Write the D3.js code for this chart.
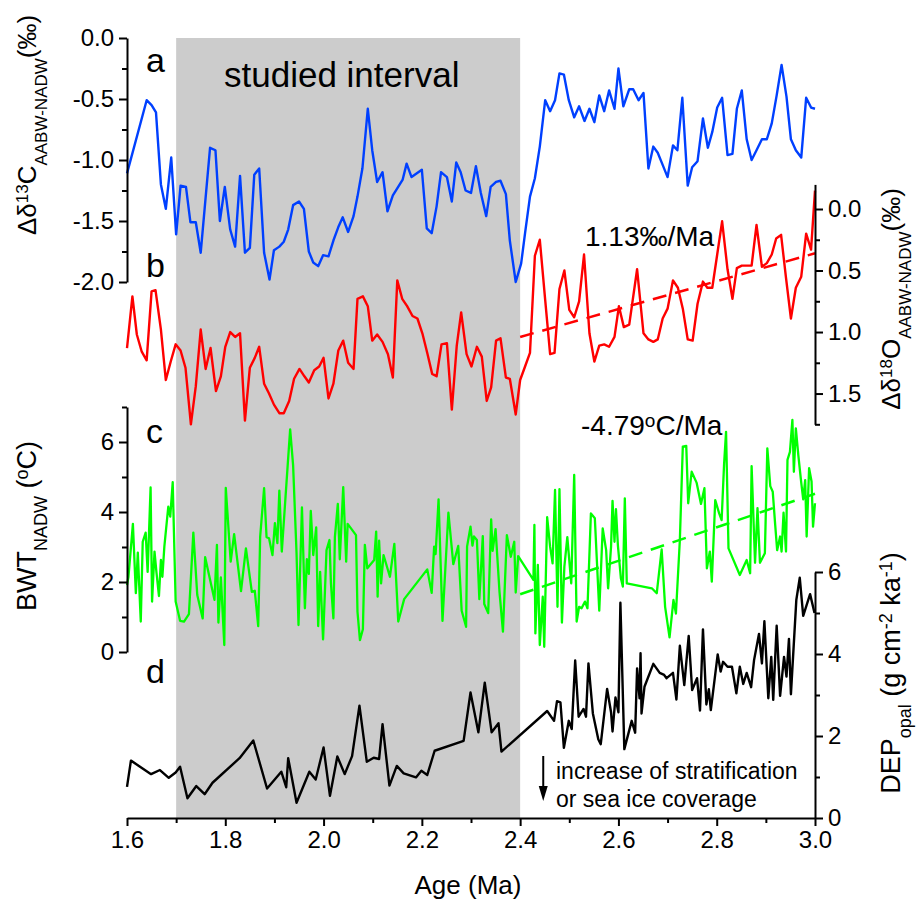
<!DOCTYPE html>
<html>
<head>
<meta charset="utf-8">
<script src="https://cdn.jsdelivr.net/npm/d3@7"></script>
<style>
body { margin: 0; background: #fff; }
svg text { font-family: "Liberation Sans", Arial, sans-serif; fill: #000; }
.axis path, .axis line { stroke: #000; stroke-width: 2; }
.axis text { font-size: 24px; font-family: "Liberation Sans", Arial, sans-serif; }
</style>
</head>
<body>
<div id="chart"></div>
<script>
// ---- data ----
var studiedInterval = [1.7, 2.4];

// a: delta13C AABW-NADW (permil)
var blueAge = [1.600,1.640,1.650,1.659,1.669,1.679,1.690,1.700,1.709,1.720,1.729,1.740,1.750,1.769,1.780,1.789,1.799,1.810,1.820,1.830,1.840,1.850,1.859,1.869,1.879,1.890,1.899,1.910,1.919,1.928,1.938,1.950,1.960,1.970,1.979,1.989,1.999,2.010,2.020,2.030,2.039,2.050,2.061,2.069,2.079,2.090,2.099,2.109,2.120,2.130,2.141,2.161,2.169,2.179,2.200,2.210,2.220,2.230,2.239,2.251,2.261,2.270,2.279,2.289,2.300,2.310,2.320,2.331,2.340,2.351,2.360,2.371,2.379,2.391,2.402,2.410,2.420,2.430,2.440,2.451,2.461,2.471,2.480,2.489,2.499,2.510,2.520,2.531,2.541,2.551,2.561,2.571,2.581,2.592,2.600,2.610,2.622,2.630,2.641,2.651,2.661,2.671,2.680,2.690,2.700,2.711,2.720,2.730,2.741,2.750,2.761,2.772,2.782,2.791,2.801,2.811,2.822,2.832,2.841,2.851,2.861,2.871,2.881,2.892,2.902,2.912,2.922,2.932,2.942,2.951,2.961,2.972,2.982,2.992,3.000];
var blueVal = [-1.11,-0.51,-0.55,-0.61,-1.20,-1.40,-0.98,-1.61,-1.21,-1.22,-1.51,-1.51,-1.76,-0.90,-0.92,-1.50,-1.22,-1.57,-1.71,-1.13,-1.76,-1.72,-1.12,-1.07,-1.76,-1.98,-1.74,-1.71,-1.67,-1.57,-1.37,-1.34,-1.40,-1.75,-1.84,-1.87,-1.78,-1.79,-1.66,-1.55,-1.47,-1.59,-1.46,-1.30,-1.07,-0.58,-0.92,-1.18,-1.10,-1.42,-1.29,-1.16,-1.03,-1.14,-1.08,-1.56,-1.60,-1.38,-1.10,-1.14,-1.34,-1.02,-1.10,-1.25,-1.27,-1.05,-1.27,-1.46,-1.22,-1.18,-1.17,-1.28,-1.66,-2.00,-1.85,-1.60,-1.30,-1.15,-0.89,-0.51,-0.60,-0.51,-0.29,-0.30,-0.51,-0.65,-0.56,-0.68,-0.58,-0.69,-0.47,-0.60,-0.43,-0.58,-0.25,-0.56,-0.42,-0.42,-0.51,-0.45,-1.07,-0.89,-0.94,-1.04,-1.14,-0.88,-0.92,-0.49,-1.21,-1.06,-1.01,-0.66,-0.90,-0.77,-0.57,-0.49,-0.96,-0.95,-0.58,-0.43,-0.83,-1.00,-0.92,-0.83,-0.83,-0.70,-0.47,-0.22,-0.48,-0.83,-0.92,-0.98,-0.49,-0.57,-0.58];

// b: delta18O AABW-NADW (permil, reversed axis)
var redAge = [1.600,1.611,1.620,1.630,1.640,1.650,1.658,1.669,1.679,1.689,1.699,1.709,1.719,1.730,1.740,1.750,1.760,1.770,1.781,1.791,1.800,1.810,1.820,1.830,1.840,1.850,1.860,1.869,1.879,1.889,1.899,1.910,1.919,1.930,1.940,1.951,1.961,1.970,1.981,1.991,2.000,2.010,2.020,2.030,2.040,2.050,2.061,2.069,2.080,2.090,2.099,2.109,2.120,2.131,2.141,2.150,2.160,2.170,2.181,2.191,2.201,2.211,2.221,2.230,2.240,2.251,2.261,2.271,2.280,2.291,2.301,2.312,2.322,2.332,2.341,2.351,2.360,2.371,2.379,2.391,2.400,2.410,2.420,2.430,2.440,2.451,2.461,2.470,2.480,2.490,2.500,2.510,2.520,2.530,2.541,2.551,2.561,2.571,2.581,2.592,2.601,2.611,2.622,2.638,2.651,2.661,2.671,2.680,2.690,2.700,2.711,2.721,2.731,2.741,2.751,2.761,2.772,2.781,2.791,2.801,2.811,2.822,2.832,2.841,2.851,2.861,2.871,2.881,2.892,2.902,2.912,2.921,2.931,2.941,2.951,2.961,2.972,2.982,2.992,3.000];
var redVal = [1.13,0.71,1.02,1.16,1.23,0.67,0.66,0.98,1.39,1.24,1.10,1.15,1.29,1.75,1.44,0.98,1.30,1.13,1.48,1.36,1.12,1.00,1.04,1.01,1.72,1.29,1.21,1.12,1.42,1.50,1.59,1.66,1.66,1.56,1.38,1.30,1.36,1.41,1.31,1.28,1.21,1.54,1.42,1.15,1.07,1.25,1.30,0.73,0.71,0.79,1.07,1.02,1.08,1.18,1.37,0.58,0.73,0.79,0.87,0.89,1.01,1.17,1.34,1.36,1.10,1.09,1.63,1.11,0.84,1.18,1.28,1.12,1.20,1.56,1.45,1.07,1.05,1.37,1.38,1.67,1.39,1.28,1.17,0.38,0.25,0.74,1.18,1.17,0.65,0.50,0.82,0.88,0.75,0.37,1.01,1.24,1.11,1.10,1.12,1.04,0.79,0.96,0.94,0.49,1.01,1.06,1.08,1.06,0.89,0.81,0.58,0.64,0.81,1.06,1.07,0.77,0.59,0.64,0.64,0.37,0.10,0.49,0.73,0.48,0.46,0.46,0.46,0.13,0.47,0.44,0.37,0.24,0.21,0.56,0.89,0.64,0.55,0.20,0.33,-0.15];
var redTrendAge = [2.4, 3.0];
var redTrendVal = [1.04, 0.36];

// c: BWT NADW (deg C)
var greenAge = [1.600,1.603,1.612,1.618,1.622,1.628,1.632,1.638,1.642,1.648,1.651,1.656,1.660,1.665,1.669,1.672,1.676,1.684,1.688,1.693,1.699,1.708,1.716,1.726,1.735,1.743,1.754,1.759,1.778,1.783,1.786,1.791,1.798,1.801,1.811,1.818,1.832,1.842,1.854,1.860,1.867,1.871,1.879,1.884,1.889,1.896,1.901,1.906,1.910,1.915,1.927,1.932,1.938,1.945,1.949,1.956,1.962,1.966,1.970,1.974,1.979,1.985,1.989,1.993,1.999,2.006,2.012,2.015,2.020,2.023,2.029,2.033,2.040,2.046,2.049,2.066,2.069,2.074,2.080,2.084,2.089,2.103,2.107,2.110,2.113,2.117,2.122,2.135,2.144,2.152,2.164,2.211,2.220,2.225,2.228,2.234,2.242,2.254,2.264,2.274,2.281,2.290,2.292,2.299,2.303,2.306,2.312,2.317,2.324,2.327,2.335,2.341,2.344,2.350,2.358,2.365,2.373,2.381,2.388,2.391,2.396,2.427,2.429,2.431,2.436,2.440,2.446,2.449,2.455,2.461,2.466,2.471,2.476,2.480,2.485,2.490,2.496,2.504,2.510,2.515,2.520,2.525,2.532,2.537,2.544,2.552,2.561,2.568,2.575,2.579,2.585,2.588,2.592,2.595,2.599,2.605,2.609,2.613,2.617,2.668,2.678,2.688,2.695,2.704,2.712,2.717,2.725,2.731,2.738,2.742,2.749,2.759,2.768,2.775,2.780,2.786,2.790,2.797,2.805,2.810,2.815,2.819,2.824,2.847,2.861,2.868,2.871,2.878,2.883,2.888,2.898,2.903,2.909,2.914,2.919,2.923,2.929,2.932,2.936,2.941,2.944,2.949,2.954,2.957,2.961,2.966,2.972,2.976,2.980,2.983,2.988,2.993,2.996,3.000];
var greenVal = [1.91,2.15,3.66,1.68,2.84,0.87,3.15,3.41,2.29,4.70,1.44,2.87,2.27,1.60,2.63,2.15,3.01,4.15,3.87,4.85,1.44,0.89,0.87,1.08,3.41,1.63,0.96,2.71,1.49,3.06,0.84,2.13,0.20,4.69,2.58,3.37,1.74,2.96,1.72,1.75,0.74,3.30,4.68,3.28,3.25,2.77,3.68,3.11,4.61,2.87,5.34,6.36,5.34,2.82,0.77,4.13,1.25,2.65,2.23,4.03,2.77,3.56,0.74,2.29,0.36,2.91,3.20,1.96,0.96,3.28,4.23,2.65,4.71,2.58,3.66,3.34,1.15,0.34,0.65,3.06,2.39,2.63,3.44,1.58,3.18,1.96,2.77,2.15,3.09,0.87,1.51,2.36,1.69,3.01,2.80,4.36,0.89,3.98,2.51,3.03,1.18,0.72,3.01,3.58,3.04,3.30,3.20,1.51,3.31,1.37,1.11,3.79,2.89,3.51,1.72,0.58,3.34,2.72,3.15,1.70,2.74,2.06,3.63,0.53,2.49,0.20,1.58,0.15,3.85,3.01,2.53,4.63,1.29,4.65,0.84,2.44,3.28,1.96,5.06,0.87,1.29,1.25,1.44,1.25,3.96,3.82,1.18,3.53,2.91,1.82,3.01,4.32,3.15,4.08,3.03,2.11,1.87,4.39,1.96,1.82,1.68,2.93,1.29,0.42,1.49,1.10,3.20,5.87,5.89,4.25,5.15,4.84,4.23,4.68,2.39,2.87,2.01,4.34,3.96,3.77,5.37,6.29,2.96,2.20,2.63,2.25,5.31,2.55,4.11,2.55,2.82,5.82,4.74,4.58,3.63,2.91,3.30,2.87,3.98,2.87,5.49,5.72,6.63,5.15,6.39,5.63,4.84,4.36,4.91,3.30,5.25,4.87,3.58,4.25];
var greenTrendAge = [2.4, 3.0];
var greenTrendVal = [1.65, 4.52];

// d: DEP opal (g cm-2 ka-1)
var blackAge = [1.600,1.608,1.649,1.667,1.685,1.699,1.708,1.723,1.741,1.758,1.774,1.829,1.857,1.885,1.914,1.924,1.928,1.945,1.971,1.984,2.000,2.013,2.028,2.043,2.058,2.073,2.088,2.102,2.113,2.120,2.134,2.149,2.163,2.188,2.199,2.211,2.226,2.285,2.299,2.315,2.328,2.342,2.356,2.362,2.455,2.469,2.475,2.482,2.489,2.499,2.505,2.512,2.519,2.529,2.534,2.539,2.548,2.559,2.564,2.577,2.585,2.588,2.594,2.600,2.604,2.612,2.627,2.634,2.638,2.643,2.645,2.647,2.653,2.671,2.684,2.693,2.698,2.711,2.718,2.725,2.734,2.743,2.750,2.760,2.766,2.772,2.779,2.784,2.788,2.802,2.808,2.813,2.822,2.831,2.840,2.847,2.854,2.861,2.870,2.876,2.886,2.892,2.897,2.905,2.911,2.915,2.922,2.929,2.937,2.942,2.947,2.951,2.962,2.969,2.976,2.990,2.999];
var blackVal = [0.76,1.40,1.07,1.17,0.98,1.11,1.25,0.48,0.78,0.58,0.86,1.46,1.89,0.72,1.13,0.75,1.46,0.37,1.13,0.94,1.72,0.54,1.50,1.07,1.51,2.74,1.37,1.47,1.44,2.29,0.79,1.27,1.09,0.99,1.15,1.05,1.64,1.88,3.06,2.09,3.30,2.09,2.31,1.62,2.61,2.37,2.85,2.82,1.71,2.37,2.17,3.84,2.47,2.66,2.47,3.77,2.55,1.92,1.80,3.15,2.58,2.11,2.94,2.58,5.25,1.68,2.37,2.08,3.65,2.92,4.02,2.55,3.20,3.76,3.54,3.49,3.41,3.54,2.89,4.20,3.24,4.44,3.12,3.41,2.62,4.60,2.77,3.14,2.63,3.99,3.57,3.81,3.69,3.69,3.04,3.69,3.27,3.54,3.19,3.85,4.49,3.77,4.80,2.92,3.93,2.88,4.69,2.98,3.93,3.45,4.37,3.02,5.32,5.86,4.93,5.46,5.00];

var xTicks = [1.6, 1.8, 2.0, 2.2, 2.4, 2.6, 2.8, 3.0];
var xMinor = [1.7, 1.9, 2.1, 2.3, 2.5, 2.7, 2.9];
var aTicks = [0, -0.5, -1.0, -1.5, -2.0];
var aMinor = [-0.25, -0.75, -1.25, -1.75];
var bTicks = [0, 0.5, 1.0, 1.5];
var bMinor = [0.25, 0.75, 1.25, 1.75];
var cTicks = [0, 2, 4, 6];
var cMinor = [1, 3, 5, 7];
var dTicks = [0, 2, 4, 6];
var dMinor = [1, 3, 5];

// ---- layout ----
var width = 917, height = 909;
var left = 127, right = 815;

var svg = d3.select("#chart").append("svg")
    .attr("width", width)
    .attr("height", height);

var xScale = d3.scaleLinear().domain([1.6, 3.0]).range([left, right]);
var yA = d3.scaleLinear().domain([-2, 0]).range([282, 38]);
var yB = d3.scaleLinear().domain([-0.2, 1.75]).range([184.4, 424.3]);
var yC = d3.scaleLinear().domain([0, 7]).range([652, 407]);
var yD = d3.scaleLinear().domain([0, 6]).range([818, 572]);

// grey band for the studied interval
svg.append("rect")
    .attr("x", xScale(studiedInterval[0]))
    .attr("y", yA(0))
    .attr("width", xScale(studiedInterval[1]) - xScale(studiedInterval[0]))
    .attr("height", yD(0) - yA(0))
    .attr("fill", "#cccccc");

svg.append("text")
    .attr("x", 224)
    .attr("y", 87)
    .style("font-size", "35px")
    .text("studied interval");

// draw one series as a polyline
function drawSeries(ages, vals, yScale, color, width, dash) {
    var line = d3.line()
        .x(function (d) { return xScale(d[0]); })
        .y(function (d) { return yScale(d[1]); });
    svg.append("path")
        .datum(d3.zip(ages, vals))
        .attr("fill", "none")
        .attr("stroke", color)
        .attr("stroke-width", width)
        .attr("stroke-linejoin", "round")
        .attr("stroke-dasharray", dash || null)
        .attr("d", line);
}

drawSeries(greenAge, greenVal, yC, "#00ff00", 2.3);
drawSeries(greenTrendAge, greenTrendVal, yC, "#00ff00", 2.5, "14,9");
drawSeries(blackAge, blackVal, yD, "#000000", 2.4);
drawSeries(redAge, redVal, yB, "#ff0000", 2.4);
drawSeries(redTrendAge, redTrendVal, yB, "#ff0000", 2.5, "14,9");
drawSeries(blueAge, blueVal, yA, "#0040ff", 2.4);

// axes: major ticks with labels plus a second pass for minor ticks
function drawAxis(axisFn, scale, major, minor, fmt, transform) {
    var g = svg.append("g")
        .attr("class", "axis")
        .attr("transform", transform);
    g.call(axisFn(scale).tickValues(major).tickSize(8).tickSizeOuter(0)
        .tickPadding(5).tickFormat(fmt));
    var m = svg.append("g")
        .attr("class", "axis")
        .attr("transform", transform);
    m.call(axisFn(scale).tickValues(minor).tickSize(5).tickSizeOuter(0).tickFormat(""));
    m.select(".domain").remove();
    return g;
}

// plain hyphen for negative numbers, as in the figure
var f1 = function (v) { return d3.format(".1f")(v).replace("\u2212", "-"); };
drawAxis(d3.axisBottom, xScale, xTicks, xMinor, f1, "translate(0," + yD(0) + ")");
drawAxis(d3.axisLeft, yA, aTicks, aMinor, f1, "translate(" + left + ",0)");
drawAxis(d3.axisRight, yB, bTicks, bMinor, f1, "translate(" + right + ",0)");
drawAxis(d3.axisLeft, yC, cTicks, cMinor, d3.format("d"), "translate(" + left + ",0)");
drawAxis(d3.axisRight, yD, dTicks, dMinor, d3.format("d"), "translate(" + right + ",0)");

// text with sub/superscripts: parts = [[text, "sup"|"sub"|undefined], ...]
function richText(parent, parts, size, small) {
    var t = parent.append("text").style("font-size", size + "px");
    var shift = 0;
    parts.forEach(function (p) {
        var target = p[1] === "sup" ? -0.3 * size : (p[1] === "sub" ? 0.42 * size : 0);
        t.append("tspan")
            .attr("dy", target - shift)
            .style("font-size", (p[1] ? small : size) + "px")
            .text(p[0]);
        shift = target;
    });
    return t;
}

function rotLabel(x, y, parts, size, small) {
    var g = svg.append("g").attr("transform", "translate(" + x + "," + y + ") rotate(-90)");
    richText(g, parts, size, small).attr("text-anchor", "middle");
}

rotLabel(36, 125, [["Δδ"], ["13", "sup"], ["C"], ["AABW-NADW", "sub"], ["(‰)"]], 26, 17);
rotLabel(900, 299, [["Δδ"], ["18", "sup"], ["O"], ["AABW-NADW", "sub"], ["(‰)"]], 26, 17);
rotLabel(36, 526, [["BWT"], ["NADW", "sub"], [" ("], ["o", "sup"], ["C)"]], 27, 18);
rotLabel(900, 673, [["DEP"], ["opal", "sub"], ["  (g cm"], ["-2", "sup"], [" ka"], ["-1", "sup"], [")"]], 27, 18);

// panel letters
var panelLetters = [["a", 72], ["b", 277], ["c", 443], ["d", 683]];
panelLetters.forEach(function (p) {
    svg.append("text")
        .attr("x", 146)
        .attr("y", p[1])
        .style("font-size", "34px")
        .text(p[0]);
});

// trend annotations
svg.append("text")
    .attr("x", 585)
    .attr("y", 246)
    .style("font-size", "28px")
    .text("1.13‰/Ma");

richText(svg, [["-4.79"], ["o", "sup"], ["C/Ma"]], 28, 19)
    .attr("x", 581)
    .attr("y", 435);

// arrow and note
var arrowX = xScale(2.447);
svg.append("line")
    .attr("x1", arrowX).attr("x2", arrowX)
    .attr("y1", 756).attr("y2", 788)
    .attr("stroke", "#000").attr("stroke-width", 2);
svg.append("path")
    .attr("d", "M" + (arrowX - 4.5) + ",786L" + (arrowX + 4.5) + ",786L" + arrowX + ",801Z")
    .attr("fill", "#000");

svg.append("text").attr("x", 556).attr("y", 779).style("font-size", "23px")
    .text("increase of stratification");
svg.append("text").attr("x", 556).attr("y", 807).style("font-size", "23px")
    .text("or sea ice coverage");

// x-axis title
svg.append("text")
    .attr("x", 468)
    .attr("y", 894)
    .attr("text-anchor", "middle")
    .style("font-size", "26px")
    .text("Age (Ma)");
</script>
</body>
</html>
